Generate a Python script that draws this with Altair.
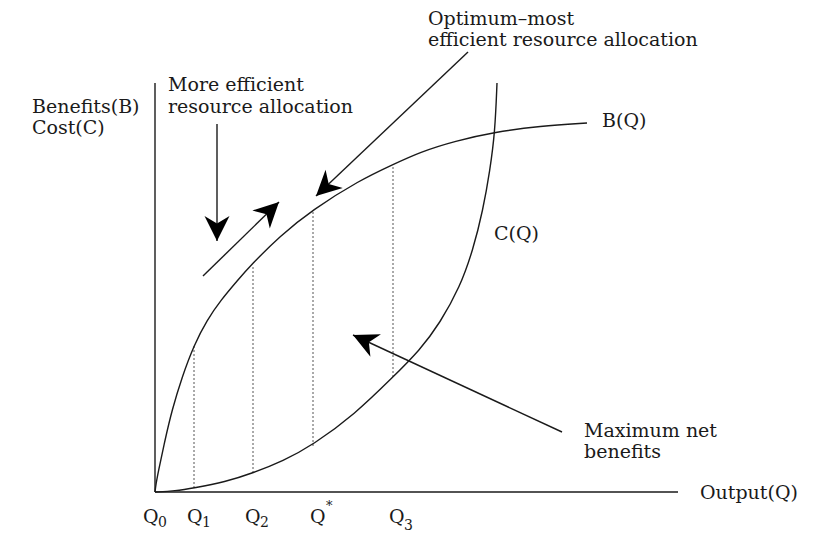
import altair as alt
import pandas as pd
import numpy as np

# ---- data (Q on the output axis, value on the benefit/cost axis) ----
b_q = [0, 1, 3, 10, 17, 27, 39, 52, 66, 82, 96, 125, 157, 205, 237, 265, 300, 340, 385, 432]
b_v = [0, 8, 19, 52, 82, 115, 147, 172, 192, 211, 227, 256, 282, 312, 327, 340, 351, 360, 366, 369]

c_q = [0, 20, 39, 70, 98, 128, 158, 200, 237, 265, 285, 305, 318, 328, 335, 340, 342]
c_v = [0, 1, 4, 10, 19, 31, 47, 78, 114, 142, 169, 205, 242, 282, 322, 360, 409]

mark_q = [39, 98, 158, 238]
mark_low = [4, 19, 46, 115]
mark_high = [147, 227, 282, 327]

# arrows: start -> tip
arr_x0 = [62, 48, 313, 407]
arr_y0 = [368, 216, 440, 60]
arr_x1 = [62, 124, 161, 198]
arr_y1 = [251, 290, 296, 157]

# axes
axis_x_end = 523
axis_y_end = 409

# text labels
lab_text = ["Optimum\u2013most", "efficient resource allocation",
            "More efficient", "resource allocation",
            "Benefits(B)", "Cost(C)", "B(Q)", "C(Q)",
            "Maximum net", "benefits", "Output(Q)",
            "Q", "Q", "Q", "Q", "Q"]
lab_x = [273, 273, 13, 13, -123, -123, 447, 339, 429, 429, 545,
         -12, 32, 90, 155, 234]
lab_y = [467, 446, 401, 379, 379, 358, 365, 252, 55, 34, -7,
         -31, -31, -31, -31, -31]

sub_text = ["0", "1", "2", "3"]
sub_x = [3, 47, 105, 249]
sub_y = [-35, -35, -35, -38]
sup_text = ["*"]
sup_x = [171]
sup_y = [-18]

xs = alt.Scale(domain=[-155, 660], nice=False, zero=False)
ys = alt.Scale(domain=[-51, 492], nice=False, zero=False)
FONT = "DejaVu Serif"
INK = "#1a1a1a"

b_df = pd.DataFrame({"q": b_q, "v": b_v})
c_df = pd.DataFrame({"q": c_q, "v": c_v})
m_df = pd.DataFrame({"q": mark_q, "lo": mark_low, "hi": mark_high})
a_df = pd.DataFrame({"x0": arr_x0, "y0": arr_y0, "x1": arr_x1, "y1": arr_y1})
a_df["angle"] = (np.degrees(np.arctan2(a_df.x1 - a_df.x0, a_df.y1 - a_df.y0)) + 360) % 360
ax_df = pd.DataFrame({"x0": [0, 0], "y0": [0, 0], "x1": [axis_x_end, 0], "y1": [0, axis_y_end]})
l_df = pd.DataFrame({"t": lab_text, "x": lab_x, "y": lab_y})
s_df = pd.DataFrame({"t": sub_text, "x": sub_x, "y": sub_y})
p_df = pd.DataFrame({"t": sup_text, "x": sup_x, "y": sup_y})

axes = alt.Chart(ax_df).mark_rule(color=INK, strokeWidth=1.4).encode(
    x=alt.X("x0:Q", scale=xs, axis=None), y=alt.Y("y0:Q", scale=ys, axis=None),
    x2="x1:Q", y2="y1:Q")

dotted = alt.Chart(m_df).mark_rule(color="#555555", strokeWidth=1, strokeDash=[2, 2]).encode(
    x=alt.X("q:Q", scale=xs, axis=None), y=alt.Y("lo:Q", scale=ys, axis=None), y2="hi:Q")

bcurve = alt.Chart(b_df).mark_line(color=INK, strokeWidth=1.4, interpolate="basis").encode(
    x=alt.X("q:Q", scale=xs, axis=None), y=alt.Y("v:Q", scale=ys, axis=None), order="q:Q")
ccurve = alt.Chart(c_df).mark_line(color=INK, strokeWidth=1.4, interpolate="basis").encode(
    x=alt.X("q:Q", scale=xs, axis=None), y=alt.Y("v:Q", scale=ys, axis=None), order="q:Q")

shafts = alt.Chart(a_df).mark_rule(color=INK, strokeWidth=1.4).encode(
    x=alt.X("x0:Q", scale=xs, axis=None), y=alt.Y("y0:Q", scale=ys, axis=None),
    x2="x1:Q", y2="y1:Q")
heads = alt.Chart(a_df).mark_point(
    shape="M0,0 L1,2 L0,1.4 L-1,2 Z", size=625, filled=True, color="#000000",
    opacity=1, strokeWidth=0).encode(
    x=alt.X("x1:Q", scale=xs, axis=None), y=alt.Y("y1:Q", scale=ys, axis=None),
    angle=alt.Angle("angle:Q", scale=None))

labels = alt.Chart(l_df).mark_text(font=FONT, fontSize=19, color=INK, align="left",
                                   baseline="alphabetic").encode(
    x=alt.X("x:Q", scale=xs, axis=None), y=alt.Y("y:Q", scale=ys, axis=None), text="t:N")
subs = alt.Chart(s_df).mark_text(font=FONT, fontSize=14, color=INK, align="left",
                                 baseline="alphabetic").encode(
    x=alt.X("x:Q", scale=xs, axis=None), y=alt.Y("y:Q", scale=ys, axis=None), text="t:N")
sups = alt.Chart(p_df).mark_text(font=FONT, fontSize=13, color=INK, align="left",
                                 baseline="alphabetic").encode(
    x=alt.X("x:Q", scale=xs, axis=None), y=alt.Y("y:Q", scale=ys, axis=None), text="t:N")

chart = alt.layer(axes, dotted, bcurve, ccurve, shafts, heads, labels, subs, sups).properties(
    width=815, height=543, autosize=alt.AutoSizeParams(type="none"), padding=0,
    background="white"
).configure_view(stroke=None)

chart.save("out.html", embed_options={"renderer": "svg", "actions": False})
